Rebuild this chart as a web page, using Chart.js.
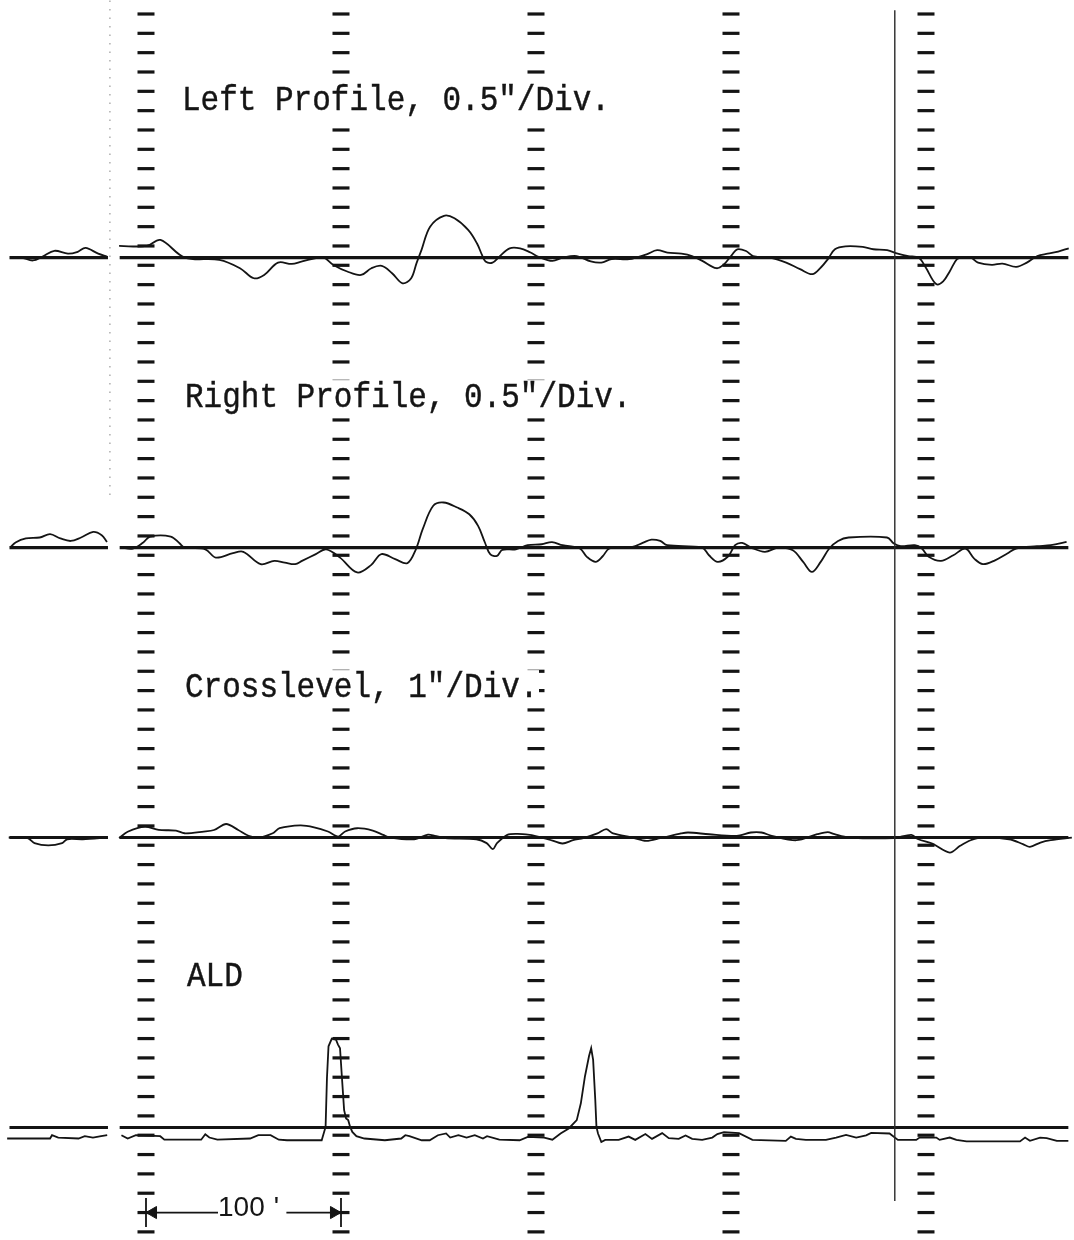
<!DOCTYPE html>
<html><head><meta charset="utf-8">
<script src="https://cdn.jsdelivr.net/npm/chart.js@4.4.1/dist/chart.umd.min.js"></script>
<style>
html,body{margin:0;padding:0;background:#fff;}
#wrap{position:relative;width:1074px;height:1240px;overflow:hidden;background:#fff;}
canvas{position:absolute;left:0;top:0;}
.lbl{position:absolute;font-family:"Liberation Mono","Courier New",monospace;font-size:31px;line-height:31px;color:#151515;background:#fff;white-space:pre;-webkit-text-stroke:0.4px #151515;transform:scaleY(1.12);transform-origin:0 24px;padding:0 1px;}
.dist{position:absolute;font-family:"Liberation Sans",Arial,sans-serif;font-size:28px;line-height:28px;color:#151515;white-space:pre;background:#fff;}
</style></head><body>
<div id="wrap">
<canvas id="c" width="1074" height="1240"></canvas>
<div class="lbl" style="left:181px;top:86px">Left Profile, 0.5"/Div.</div>
<div class="lbl" style="left:184px;top:383px">Right Profile, 0.5"/Div.</div>
<div class="lbl" style="left:184px;top:673px">Crosslevel, 1"/Div.</div>
<div class="lbl" style="left:186px;top:962px">ALD</div>
<div class="dist" style="left:218px;top:1193px">100<span style="margin-left:9px">'</span></div>
</div>
<script>
// ---- data (x: distance in feet, values: divisions from the channel baseline, null = record break) ----
const columnFeet = [0, 100, 200, 300, 400];
const tickRowCount = 64;

const leftProfileX = [-69.7,-64,-58,-53,-47,-40,-35,-31,-24.5,-20,-17,-13.8,0.4,7.4,19.9,37.6,48.2,55.3,60.6,67.7,74.8,80.1,90.8,96.1,103.2,110.3,115.6,120.9,126.2,131.6,136.0,138.7,141.3,145.7,152.8,158.2,165.2,169.7,172.3,174.1,177.7,181.2,186.5,191.8,197.2,201.3,208.4,213.8,220.9,228.1,233.5,238.8,247.8,256.7,262.1,267.4,274.6,280.0,285.3,292.5,296.1,300.5,303.2,307.7,311.3,321.1,328.3,335.4,341.7,346.2,349.7,353.3,358.7,367.6,373.0,380.1,385.5,390.9,396.2,399.8,405.2,408.8,412.3,415.9,419.5,423.1,426.7,433.8,439.2,446.3,451.7,457.1,462.4,467.8,473.2];
const leftProfileV = [0,0,-0.15,0.05,0.35,0.2,0.3,0.5,0.2,0.05,null,0.6,0.6,0.91,0,-0.12,-0.55,-1.07,-0.9,-0.26,-0.33,-0.2,0,-0.38,-0.72,-0.9,-0.55,-0.43,-0.81,-1.33,-1.07,-0.3,0.4,1.6,2.16,2.03,1.43,0.74,0.14,-0.2,-0.26,0.05,0.48,0.48,0.26,0.04,-0.17,0,0.08,-0.2,-0.26,-0.08,-0.08,0.17,0.38,0.26,0.2,0.08,-0.17,-0.55,-0.38,0.14,0.43,0.34,0.08,-0.03,-0.26,-0.6,-0.86,-0.5,-0.08,0.43,0.58,0.55,0.43,0.38,0.2,0.08,0,-0.5,-1.37,-1.23,-0.69,-0.08,0.03,0,-0.26,-0.38,-0.31,-0.48,-0.26,0.08,0.2,0.31,0.48];

const rightProfileX = [-69.6,-66.9,-61.6,-54.5,-49.2,-43.9,-38.6,-33.3,-27.1,-22.7,-20.0,-17,-12.9,-6.7,-1.4,2.1,12.7,17.2,19.8,30.4,35.8,44.6,49.9,58.8,65.8,71.2,76.5,80.0,87.1,92.4,99.5,108.3,115.4,120.7,127.8,134.0,138.4,141.9,147.3,152.6,159.6,165.8,170.3,173.8,176.5,180.0,182.7,189.7,195.7,202.9,208.2,213.6,222.5,226.1,230.6,234.2,237.7,249.4,254.7,259.2,263.7,267.3,285.2,288.7,293.2,298.6,302.1,305.7,310.2,317.4,324.5,331.7,337.0,341.5,346.0,350.4,354.9,360.3,380.0,383.5,387.1,394.3,397.9,401.4,407.7,414.0,420.2,424.7,429.2,435.4,441.7,446.2,456.9,464.0,472.1];
const rightProfileV = [0,0.26,0.47,0.52,0.69,0.47,0.34,0.52,0.81,0.64,0.29,null,0,-0.05,0.26,0.57,0.57,0.22,0,-0.09,-0.52,-0.29,-0.22,-0.86,-0.69,-0.78,-0.86,-0.69,-0.34,-0.09,-0.52,-1.29,-0.91,-0.34,-0.6,-0.81,-0.09,0.95,2.16,2.33,2.07,1.72,1.12,0.26,-0.34,-0.43,-0.12,-0.09,0.12,0.17,0.28,0.12,-0.05,-0.48,-0.74,-0.45,-0.05,0.03,0.24,0.41,0.34,0.12,0,-0.4,-0.74,-0.45,0.12,0.24,0,-0.22,0,-0.14,-0.74,-1.26,-0.74,-0.05,0.34,0.52,0.52,0.21,0.07,0.12,-0.05,-0.48,-0.69,-0.4,-0.05,-0.57,-0.86,-0.66,-0.31,-0.05,0.07,0.12,0.29];

const crosslevelX = [-70.4,-60.7,-57.2,-50.1,-43.0,-40.4,-32.4,-19.8,-17,-13.8,-9.4,-0.5,6.5,15.4,19.8,29.6,34.9,41.1,47.3,52.6,57.9,65.0,68.5,79.1,86.2,93.3,98.6,102.1,108.3,116.3,121.6,125.1,137.5,144.6,148.1,153.5,169.4,174.7,177.9,180.0,185.3,190.6,196.8,199.3,206.4,213.6,219.0,224.3,231.5,236.0,239.5,249.4,256.5,263.7,274.4,278.0,288.7,303.0,310.2,315.6,320.9,333.5,344.2,349.6,353.1,360.3,383.5,392.5,396.1,403.2,412.2,417.5,422.9,428.3,442.6,449.7,453.3,458.7,464.0,474.8];
const crosslevelV = [0,-0.03,-0.29,-0.41,-0.29,-0.09,-0.09,0,null,-0.03,0.3,0.56,0.39,0.36,0.22,0.31,0.39,0.7,0.39,0.09,0,0.22,0.48,0.63,0.53,0.31,0.05,0.31,0.48,0.36,0.14,0,-0.09,0.15,0.09,-0.03,-0.09,-0.29,-0.6,-0.29,0.14,0.19,0.14,0.09,-0.09,-0.31,-0.14,-0.03,0.21,0.43,0.21,0,-0.17,-0.03,0.21,0.26,0.17,0.09,0.26,0.26,0.09,-0.14,0.17,0.28,0.17,0,-0.03,0.14,-0.09,-0.31,-0.78,-0.43,-0.14,0,-0.09,-0.34,-0.48,-0.26,-0.14,0];

const aldX = [-71.2,-49.2,-48.2,-45.0,-34.6,-31.4,-27.2,-23.0,-19.9,-17,-12.6,-9.4,-5.2,7.3,9.4,28.3,30.4,32.5,36.6,53.4,57.6,63.9,68.1,72.3,90.1,92.1,92.8,93.6,95.3,97.4,98.4,99.5,100.5,101.6,102.6,103.7,104.7,105.8,107.9,112.0,122.5,130.9,133.0,135.1,141.4,145.5,149.7,153.9,156.0,160.2,164.4,168.6,172.8,174.9,181.2,191.6,195.8,204.2,208.4,212.6,216.8,220.9,223.0,225.1,227.2,228.3,229.3,230.4,231.0,231.8,233.5,235.5,242.4,247.5,250.9,256.1,259.5,264.7,268.1,273.2,276.7,280.1,285.2,290.4,293.0,296.4,304.1,311.0,328.1,330.7,333.3,338.4,348.7,353.9,359.0,364.2,369.3,371.9,381.3,385.6,395.0,396.7,405.3,407.0,412.2,415.6,420.8,448.2,450.8,453.3,458.5,461.9,467.1,473];
const aldV = [-0.57,-0.57,-0.4,-0.52,-0.57,-0.45,-0.52,-0.45,-0.4,null,-0.4,-0.57,-0.4,-0.45,-0.63,-0.63,-0.35,-0.52,-0.63,-0.57,-0.4,-0.4,-0.63,-0.66,-0.66,0.03,2.56,4.2,4.6,4.55,4.3,4.1,2.56,0.9,0.47,0.38,0.03,-0.23,-0.45,-0.57,-0.66,-0.57,-0.4,-0.45,-0.66,-0.66,-0.4,-0.31,-0.52,-0.4,-0.52,-0.4,-0.57,-0.45,-0.63,-0.66,-0.49,-0.52,-0.63,-0.31,-0.05,0.38,1.25,2.64,3.7,4.1,3.5,1.43,0.03,-0.31,-0.75,-0.64,-0.64,-0.47,-0.64,-0.34,-0.59,-0.29,-0.55,-0.59,-0.41,-0.59,-0.64,-0.52,-0.34,-0.24,-0.29,-0.64,-0.69,-0.47,-0.59,-0.64,-0.64,-0.52,-0.38,-0.52,-0.41,-0.28,-0.31,-0.64,-0.64,-0.52,-0.52,-0.64,-0.52,-0.64,-0.72,-0.72,-0.52,-0.69,-0.52,-0.55,-0.69,-0.69];

// ---- layout (positions / styles) ----
const channelBaseRow = [12.6, 27.6, 42.6, 57.6];
const recordStart = -70, breakStart = -19.5, breakEnd = -13.5, recordEnd = 473;
const INK = '#141414';

function traceSet(xs, vs, base, tension) {
  return {
    type: 'line',
    data: xs.map((x, i) => ({ x: x, y: vs[i] === null ? null : base - vs[i] })),
    borderColor: INK, borderWidth: 1.8, pointRadius: 0, tension: tension,
    spanGaps: false, fill: false, order: 2
  };
}
function baseSet(base) {
  return {
    type: 'line',
    data: [{x: recordStart, y: base}, {x: breakStart, y: base}, {x: (breakStart + breakEnd) / 2, y: null},
           {x: breakEnd, y: base}, {x: recordEnd, y: base}],
    borderColor: INK, borderWidth: 3.2, pointRadius: 0, spanGaps: false, order: 3
  };
}
function segSet(pts, width, color, dash) {
  return { type: 'line', data: pts, borderColor: color, borderWidth: width, pointRadius: 0,
           borderDash: dash || [], order: 1 };
}

const tickMarks = [];
columnFeet.forEach(c => { for (let k = 0; k < tickRowCount; k++) tickMarks.push({x: c, y: k}); });

const datasets = [
  { type: 'scatter', data: tickMarks, showLine: false, pointStyle: 'line', pointRadius: 8.5,
    pointHoverRadius: 8.5, pointBorderWidth: 3.2, pointBorderColor: INK, borderColor: INK, order: 0 },
  baseSet(channelBaseRow[0]), baseSet(channelBaseRow[1]), baseSet(channelBaseRow[2]), baseSet(channelBaseRow[3]),
  traceSet(leftProfileX, leftProfileV, channelBaseRow[0], 0.35),
  traceSet(rightProfileX, rightProfileV, channelBaseRow[1], 0.35),
  traceSet(crosslevelX, crosslevelV, channelBaseRow[2], 0.3),
  traceSet(aldX, aldV, channelBaseRow[3], 0),
  segSet([{x: 384, y: -0.2}, {x: 384, y: 61.4}], 1.4, '#2a2a2a'),
  segSet([{x: -18.5, y: -0.7}, {x: -18.5, y: 25}], 1.2, '#9a9a9a', [1.5, 7]),
  segSet([{x: 0, y: 61.25}, {x: 0, y: 62.75}], 1.8, INK),
  segSet([{x: 100, y: 61.25}, {x: 100, y: 62.75}], 1.8, INK),
  segSet([{x: 2, y: 62}, {x: 37, y: 62}], 1.8, INK),
  segSet([{x: 72, y: 62}, {x: 98, y: 62}], 1.8, INK),
  { type: 'scatter', data: [{x: 3.6, y: 62}], pointStyle: 'triangle', pointRotation: -90, pointRadius: 7,
    pointBackgroundColor: INK, pointBorderColor: INK, pointBorderWidth: 1, order: 0 },
  { type: 'scatter', data: [{x: 96.4, y: 62}], pointStyle: 'triangle', pointRotation: 90, pointRadius: 7,
    pointBackgroundColor: INK, pointBorderColor: INK, pointBorderWidth: 1, order: 0 }
];

new Chart(document.getElementById('c'), {
  type: 'line',
  data: { datasets: datasets },
  options: {
    responsive: false, animation: false, events: [],
    layout: { padding: 0, autoPadding: false },
    plugins: { legend: { display: false }, tooltip: { enabled: false } },
    scales: {
      x: { type: 'linear', display: false, min: -74.87, max: 475.9 },
      y: { type: 'linear', display: false, reverse: true, min: -0.724, max: 63.42 }
    }
  }
});
</script>
</body></html>
